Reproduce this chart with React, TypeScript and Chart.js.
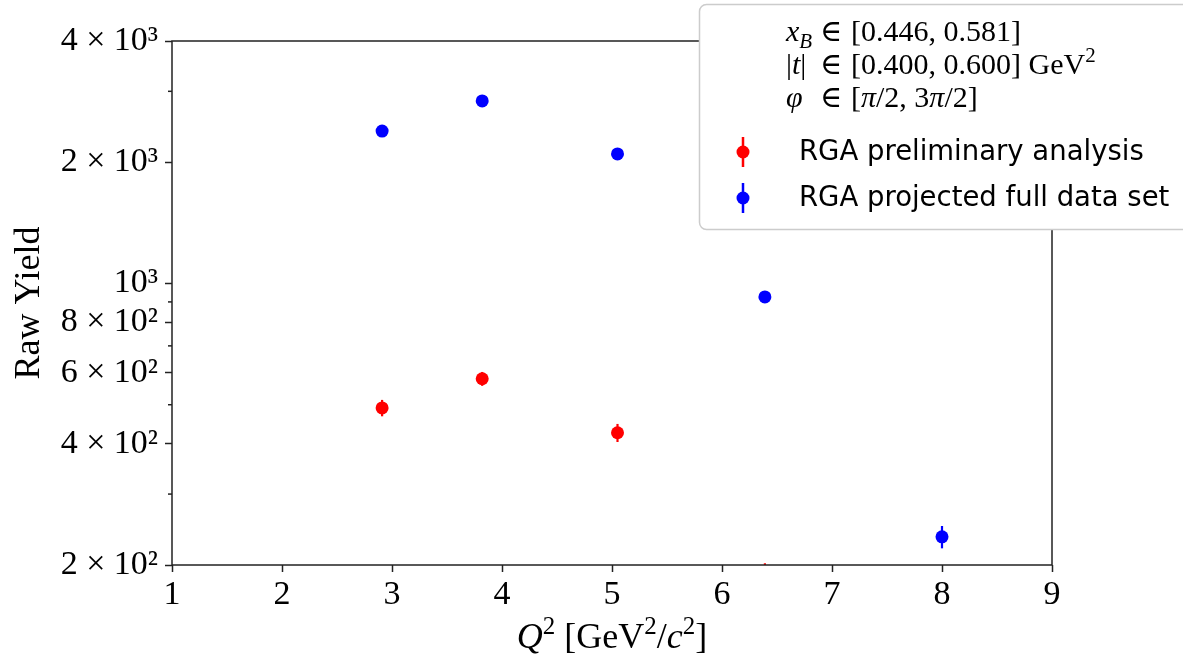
import React, { useEffect, useRef } from "react";
import { Chart, registerables } from "chart.js";

Chart.register(...registerables);

// ---------- data ----------
const redQ2 = [2.91, 3.82, 5.05, 6.39];
const redYield = [491, 580, 426, 175];
const redErr = [23, 23, 22, 27];

const blueQ2 = [2.91, 3.82, 5.05, 6.39, 8.0];
const blueYield = [2390, 2840, 2097, 926, 235];
const blueErr = [40, 45, 40, 20, 15];

const yMajorTicks = [200, 400, 600, 800, 1000, 2000, 4000];
const yMajorLabels = ["2 × 10²", "4 × 10²", "6 × 10²", "8 × 10²", "10³", "2 × 10³", "4 × 10³"];
const yMinorTicks = [300, 500, 700, 900, 3000];
const xTicks = [1, 2, 3, 4, 5, 6, 7, 8, 9];

const legendLabels = ["RGA preliminary analysis", "RGA projected full data set"];
const seriesColors = ["#ff0000", "#0000ff"];

const SERIF = "'Liberation Serif', 'DejaVu Serif', serif";
const SANS = "'DejaVu Sans', sans-serif";

type Seg = { t: string; it?: boolean; sup?: boolean; sub?: boolean };

function drawRich(ctx: CanvasRenderingContext2D, segs: Seg[], x: number, y: number, size: number, align: "left" | "center") {
  const fontFor = (s: Seg) => {
    const sz = s.sup || s.sub ? Math.round(size * 0.7) : size;
    return `${s.it ? "italic " : ""}${sz}px ${SERIF}`;
  };
  let total = 0;
  for (const s of segs) {
    ctx.font = fontFor(s);
    total += ctx.measureText(s.t).width;
  }
  let cx = align === "center" ? x - total / 2 : x;
  ctx.textAlign = "left";
  ctx.textBaseline = "alphabetic";
  for (const s of segs) {
    ctx.font = fontFor(s);
    const dy = s.sup ? -size * 0.4 : s.sub ? size * 0.22 : 0;
    ctx.fillText(s.t, cx, y + dy);
    cx += ctx.measureText(s.t).width;
  }
}

const decorPlugin = {
  id: "decor",
  beforeDatasetsDraw(chart: any) {
    const { ctx, chartArea, scales } = chart;
    const xs = scales.x;
    const ys = scales.y;
    ctx.save();
    ctx.beginPath();
    ctx.rect(chartArea.left, chartArea.top, chartArea.right - chartArea.left, chartArea.bottom - chartArea.top);
    ctx.clip();
    ctx.lineWidth = 2.2;
    const sets = [
      { q: redQ2, v: redYield, e: redErr, c: seriesColors[0] },
      { q: blueQ2, v: blueYield, e: blueErr, c: seriesColors[1] },
    ];
    for (const s of sets) {
      ctx.strokeStyle = s.c;
      for (let i = 0; i < s.q.length; i++) {
        const px = xs.getPixelForValue(s.q[i]);
        const y1 = ys.getPixelForValue(s.v[i] - s.e[i]);
        const y2 = ys.getPixelForValue(s.v[i] + s.e[i]);
        ctx.beginPath();
        ctx.moveTo(px, y1);
        ctx.lineTo(px, y2);
        ctx.stroke();
      }
    }
    ctx.restore();
  },
  afterDatasetsDraw(chart: any) {
    const { ctx, chartArea, scales } = chart;
    const ys = scales.y;
    ctx.save();
    // frame
    ctx.strokeStyle = "#222";
    ctx.lineWidth = 1.5;
    ctx.strokeRect(chartArea.left, chartArea.top, chartArea.right - chartArea.left, chartArea.bottom - chartArea.top);
    // minor y ticks
    for (const v of yMinorTicks) {
      const py = ys.getPixelForValue(v);
      ctx.beginPath();
      ctx.moveTo(chartArea.left - 4, py);
      ctx.lineTo(chartArea.left, py);
      ctx.stroke();
    }
    // axis titles
    ctx.fillStyle = "#000";
    drawRich(ctx, [
      { t: "Q", it: true }, { t: "2", sup: true }, { t: " [GeV" }, { t: "2", sup: true },
      { t: "/" }, { t: "c", it: true }, { t: "2", sup: true }, { t: "]" },
    ], (chartArea.left + chartArea.right) / 2, 648, 36, "center");
    ctx.save();
    ctx.translate(30, (chartArea.top + chartArea.bottom) / 2);
    ctx.rotate(-Math.PI / 2);
    ctx.font = `36px ${SERIF}`;
    ctx.textAlign = "center";
    ctx.textBaseline = "middle";
    ctx.fillText("Raw Yield", 0, 0);
    ctx.restore();

    // legend box
    ctx.beginPath();
    (ctx as any).roundRect(699.5, 4.5, 500, 225, 7);
    ctx.fillStyle = "#ffffff";
    ctx.fill();
    ctx.strokeStyle = "#cccccc";
    ctx.lineWidth = 1.5;
    ctx.stroke();

    ctx.fillStyle = "#000";
    const mx = 786;
    const inX = 820;
    const restX = 851;
    const lineY = [41, 74, 107];
    const prefixes: Seg[][] = [
      [{ t: "x", it: true }, { t: "B", it: true, sub: true }],
      [{ t: "|" }, { t: "t", it: true }, { t: "|" }],
      [{ t: "φ", it: true }],
    ];
    const rests: Seg[][] = [
      [{ t: "[0.446, 0.581]" }],
      [{ t: "[0.400, 0.600] GeV" }, { t: "2", sup: true }],
      [{ t: "[" }, { t: "π", it: true }, { t: "/2, 3" }, { t: "π", it: true }, { t: "/2]" }],
    ];
    for (let i = 0; i < 3; i++) {
      drawRich(ctx, prefixes[i], mx, lineY[i], 30, "left");
      drawRich(ctx, [{ t: "∈" }], inX, lineY[i], 30, "left");
      drawRich(ctx, rests[i], restX, lineY[i], 30, "left");
    }

    const entryY = [152, 198];
    for (let i = 0; i < 2; i++) {
      const c = seriesColors[i];
      ctx.strokeStyle = c;
      ctx.lineWidth = 2.5;
      ctx.beginPath();
      ctx.moveTo(743, entryY[i] - 15);
      ctx.lineTo(743, entryY[i] + 15);
      ctx.stroke();
      ctx.fillStyle = c;
      ctx.beginPath();
      ctx.arc(743, entryY[i], 6.5, 0, Math.PI * 2);
      ctx.fill();
      ctx.fillStyle = "#000";
      ctx.font = `27.5px ${SANS}`;
      ctx.textAlign = "left";
      ctx.textBaseline = "middle";
      ctx.fillText(legendLabels[i], 799, entryY[i] + 1);
    }
    ctx.restore();
  },
};

export default function App() {
  const ref = useRef<HTMLCanvasElement | null>(null);
  useEffect(() => {
    document.body.style.margin = "0";
    const canvas = ref.current!;
    const chart = new Chart(canvas, {
      type: "scatter",
      data: {
        datasets: [
          {
            label: legendLabels[0],
            data: redQ2.map((q, i) => ({ x: q, y: redYield[i] })),
            backgroundColor: seriesColors[0],
            borderColor: seriesColors[0],
            pointRadius: 6.5,
            pointBorderWidth: 0,
          },
          {
            label: legendLabels[1],
            data: blueQ2.map((q, i) => ({ x: q, y: blueYield[i] })),
            backgroundColor: seriesColors[1],
            borderColor: seriesColors[1],
            pointRadius: 6.5,
            pointBorderWidth: 0,
          },
        ],
      },
      options: {
        animation: false,
        responsive: false,
        layout: { padding: { top: 41, right: 131, left: 0, bottom: 0 } },
        plugins: { legend: { display: false }, tooltip: { enabled: false } },
        scales: {
          x: {
            type: "linear",
            min: 1,
            max: 9,
            afterBuildTicks: (scale: any) => {
              scale.ticks = xTicks.map((v) => ({ value: v }));
            },
            afterFit: (scale: any) => {
              scale.height = 96;
            },
            ticks: {
              color: "#000",
              padding: 3,
              font: { family: SERIF, size: 34 },
              callback: (v: any) => String(v),
              maxRotation: 0,
            },
            grid: { drawOnChartArea: false, drawTicks: true, tickLength: 7, tickColor: "#222", tickWidth: 1.5 },
            border: { display: false },
          },
          y: {
            type: "logarithmic",
            min: 200,
            max: 4000,
            afterBuildTicks: (scale: any) => {
              scale.ticks = yMajorTicks.map((v) => ({ value: v, major: true }));
            },
            afterFit: (scale: any) => {
              scale.width = 172;
            },
            ticks: {
              color: "#000",
              padding: 7,
              font: { family: SERIF, size: 34 },
              callback: (v: any) => {
                const i = yMajorTicks.indexOf(Number(v));
                return i >= 0 ? yMajorLabels[i] : "";
              },
            },
            grid: { drawOnChartArea: false, drawTicks: true, tickLength: 7, tickColor: "#222", tickWidth: 1.5 },
            border: { display: false },
          },
        },
      },
      plugins: [decorPlugin],
    });
    return () => chart.destroy();
  }, []);
  return (
    <div style={{ width: 1183, height: 661 }}>
      <canvas ref={ref} width={1183} height={661} />
    </div>
  );
}
